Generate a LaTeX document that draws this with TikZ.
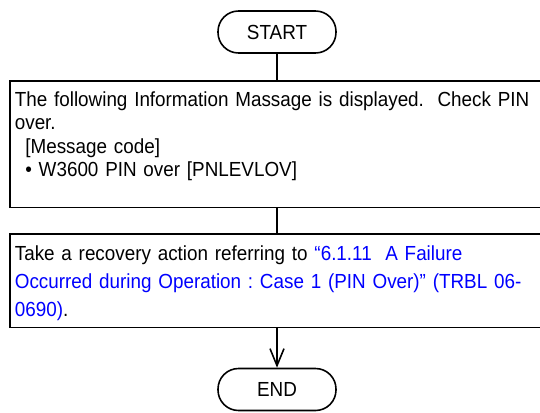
\documentclass[tikz,border=0pt]{standalone}
\usepackage{fontspec}
\setmainfont{Liberation Sans}[FakeStretch=0.925]
\usepackage{xcolor}
\definecolor{linkblue}{HTML}{0000FF}
\definecolor{frame}{HTML}{000000}
\usetikzlibrary{positioning,arrows.meta}
\frenchspacing

\begin{document}
\begin{tikzpicture}[
    terminal/.style={draw=frame, fill=white, rounded corners=0.41cm,
                     minimum width=2.36cm, minimum height=0.84cm,
                     inner sep=0pt, line width=0.9pt,
                     font=\fontsize{11.6}{13}\selectfont},
    stepbox/.style={draw=frame, fill=white, minimum width=10.86cm,
                    anchor=north west, inner sep=0pt, line width=0.9pt},
    steptext/.style={anchor=north west, inner sep=0pt, align=left,
                     text width=10.55cm},
    link/.style={draw=frame, line width=0.9pt},
    arrow/.style={draw=frame, line width=0.9pt,
                  -{Straight Barb[length=0.34cm, width=0.28cm]}},
]
\useasboundingbox (0, 0) rectangle (10.8, -8.26);

% Inicio
\node[terminal] (startnode) at (5.54, -0.64) {START};

% Paso 1: mensaje
\node[stepbox, minimum height=2.52cm] (msgbox) at (0.18, -1.61) {};
\node[steptext, font=\fontsize{11.6}{13.15}\selectfont,
      below right=0.225cm and 0.11cm of msgbox.north west] (msgtext) {
    The following Information Massage is displayed.\ \ Check PIN\\
    over.\\
    \hspace*{0.21cm}[Message code]\\
    \hspace*{0.21cm}\textbullet\ W3600 PIN over [PNLEVLOV]
};

% Paso 2: recuperacion
\node[stepbox, minimum height=1.868cm] (actbox) at (0.18, -4.666) {};
\node[steptext, font=\fontsize{11.6}{15.94}\selectfont,
      below right=0.235cm and 0.11cm of actbox.north west] (acttext) {
    Take a recovery action referring to \textcolor{linkblue}{“6.1.11\ \ A Failure}\\
    \textcolor{linkblue}{Occurred during Operation : Case 1 (PIN Over)” (TRBL 06-}\\
    \textcolor{linkblue}{0690)}.
};

% Fin
\node[terminal] (endnode) at (5.54, -7.79) {END};

% Conexiones
\draw[link] (startnode.south) -- (startnode.south |- msgbox.north);
\draw[link] (msgbox.south -| startnode) -- (actbox.north -| startnode);
\draw[arrow] (actbox.south -| endnode) -- (endnode.north);

\end{tikzpicture}
\end{document}
